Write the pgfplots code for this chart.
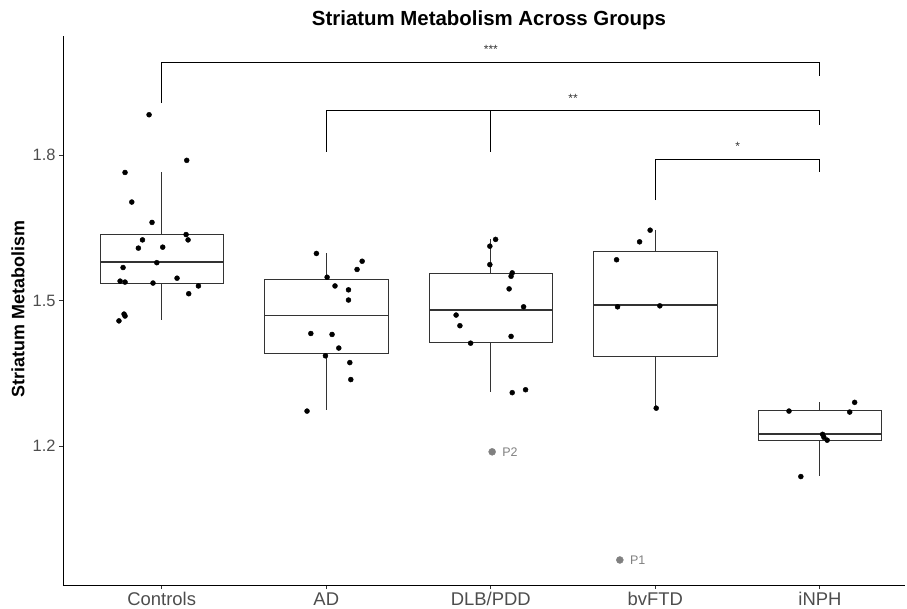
\documentclass[border=0pt]{standalone}
\usepackage{fontspec}
\setmainfont{Liberation Sans}
\usepackage{pgfplots}
\pgfplotsset{compat=1.18}
\usepgfplotslibrary{statistics}
\definecolor{tickgray}{HTML}{4D4D4D}
\definecolor{ptgray}{HTML}{808080}
\definecolor{boxline}{HTML}{333333}
\begin{document}
\begin{tikzpicture}
\useasboundingbox (0,0) rectangle (907bp,609bp);
\begin{axis}[
  at={(63bp,24bp)}, anchor=south west,
  scale only axis, width=842bp, height=549bp,
  xmin=0.4, xmax=5.517, ymin=0.9134, ymax=2.0454,
  axis x line*=bottom, axis y line*=left,
  axis line style={black, line width=0.9bp},
  xtick={1,2,3,4,5}, xticklabels={Controls,AD,DLB/PDD,bvFTD,iNPH},
  ytick={1.2,1.5,1.8}, yticklabels={1.2,1.5,1.8},
  tick align=outside, major tick length=4bp,
  tick style={boxline, line width=0.9bp},
  x tick label style={font=\fontsize{18.5}{18.5}\selectfont, text=tickgray},
  y tick label style={font=\fontsize{16.5}{16.5}\selectfont, text=tickgray},
  boxplot/draw direction=y,
  clip=false,
]
% boxes
\addplot[boxplot prepared={draw position=1, lower whisker=1.460, lower quartile=1.536, median=1.579, upper quartile=1.636, upper whisker=1.764, box extend=0.75, whisker extend=0}, draw=boxline, line width=0.9bp, solid] coordinates {};
\addplot[boxplot prepared={draw position=2, lower whisker=1.274, lower quartile=1.390, median=1.469, upper quartile=1.544, upper whisker=1.597, box extend=0.75, whisker extend=0}, draw=boxline, line width=0.9bp, solid] coordinates {};
\addplot[boxplot prepared={draw position=3, lower whisker=1.311, lower quartile=1.414, median=1.481, upper quartile=1.556, upper whisker=1.626, box extend=0.75, whisker extend=0}, draw=boxline, line width=0.9bp, solid] coordinates {};
\addplot[boxplot prepared={draw position=4, lower whisker=1.278, lower quartile=1.385, median=1.491, upper quartile=1.601, upper whisker=1.645, box extend=0.75, whisker extend=0}, draw=boxline, line width=0.9bp, solid] coordinates {};
\addplot[boxplot prepared={draw position=5, lower whisker=1.138, lower quartile=1.212, median=1.225, upper quartile=1.273, upper whisker=1.291, box extend=0.75, whisker extend=0}, draw=boxline, line width=0.9bp, solid] coordinates {};
% medians (thick)
\addplot[boxline, line width=1.9bp] coordinates {(0.625,1.579) (1.375,1.579)};
\addplot[boxline, line width=1.9bp] coordinates {(1.625,1.469) (2.375,1.469)};
\addplot[boxline, line width=1.9bp] coordinates {(2.625,1.481) (3.375,1.481)};
\addplot[boxline, line width=1.9bp] coordinates {(3.625,1.491) (4.375,1.491)};
\addplot[boxline, line width=1.9bp] coordinates {(4.625,1.225) (5.375,1.225)};
% jittered points
\addplot[only marks, mark=*, mark size=2.5bp, black] coordinates {
(0.923,1.883) (1.152,1.789) (0.777,1.764) (0.818,1.703) (0.941,1.661)
(1.148,1.636) (1.160,1.625) (0.883,1.625) (0.858,1.608) (1.006,1.610)
(0.765,1.568) (0.970,1.578) (1.093,1.546) (0.747,1.540) (0.777,1.538)
(0.947,1.536) (1.223,1.530) (1.164,1.514) (0.771,1.472) (0.777,1.468)
(0.740,1.458)};
\addplot[only marks, mark=*, mark size=2.5bp, black] coordinates {
(1.940,1.597) (2.218,1.581) (2.187,1.564) (2.005,1.548) (2.053,1.530)
(2.135,1.522) (2.135,1.501) (1.906,1.432) (2.035,1.430) (2.076,1.402)
(1.995,1.386) (2.143,1.372) (2.149,1.337) (1.883,1.272)};
\addplot[only marks, mark=*, mark size=2.5bp, black] coordinates {
(3.029,1.626) (2.994,1.612) (2.994,1.574) (3.130,1.557) (3.123,1.550)
(3.111,1.524) (3.199,1.487) (2.789,1.470) (2.812,1.448) (3.123,1.426)
(2.877,1.412) (3.211,1.316) (3.130,1.310)};
\addplot[only marks, mark=*, mark size=2.5bp, black] coordinates {
(3.968,1.645) (3.904,1.621) (3.764,1.584) (3.770,1.487) (4.027,1.489)
(4.005,1.278)};
\addplot[only marks, mark=*, mark size=2.5bp, black] coordinates {
(5.211,1.290) (4.812,1.272) (5.181,1.270) (5.016,1.224) (5.024,1.218)
(5.044,1.212) (4.884,1.137)};
% highlighted points
\addplot[only marks, mark=*, mark size=3.5bp, ptgray, mark options={draw=ptgray, fill=ptgray}] coordinates {(3.008,1.188) (3.784,0.965)};
\node[anchor=west, inner sep=0pt, text=ptgray, font=\fontsize{12.5}{12.5}\selectfont] at (axis cs:3.008,1.188) [xshift=10bp] {P2};
\node[anchor=west, inner sep=0pt, text=ptgray, font=\fontsize{12.5}{12.5}\selectfont] at (axis cs:3.784,0.965) [xshift=10bp] {P1};
% significance brackets
\addplot[black, line width=0.9bp] coordinates {(1,1.907) (1,1.991) (5,1.991) (5,1.963)};
\addplot[black, line width=0.9bp] coordinates {(2,1.807) (2,1.891) (5,1.891) (5,1.862)};
\addplot[black, line width=0.9bp] coordinates {(3,1.807) (3,1.891)};
\addplot[black, line width=0.9bp] coordinates {(4,1.707) (4,1.791) (5,1.791) (5,1.764)};
\node[font=\fontsize{12}{12}\selectfont, text=boxline] at (axis cs:3,2.017) {***};
\node[font=\fontsize{12}{12}\selectfont, text=boxline] at (axis cs:3.5,1.917) {**};
\node[font=\fontsize{12}{12}\selectfont, text=boxline] at (axis cs:4.5,1.817) {*};
\end{axis}
\node[font=\bfseries\fontsize{20.5}{20.5}\selectfont] at (489bp,589bp) {Striatum Metabolism Across Groups};
\node[rotate=90, font=\bfseries\fontsize{18}{18}\selectfont] at (18bp,300bp) {Striatum Metabolism};
\end{tikzpicture}
\end{document}
